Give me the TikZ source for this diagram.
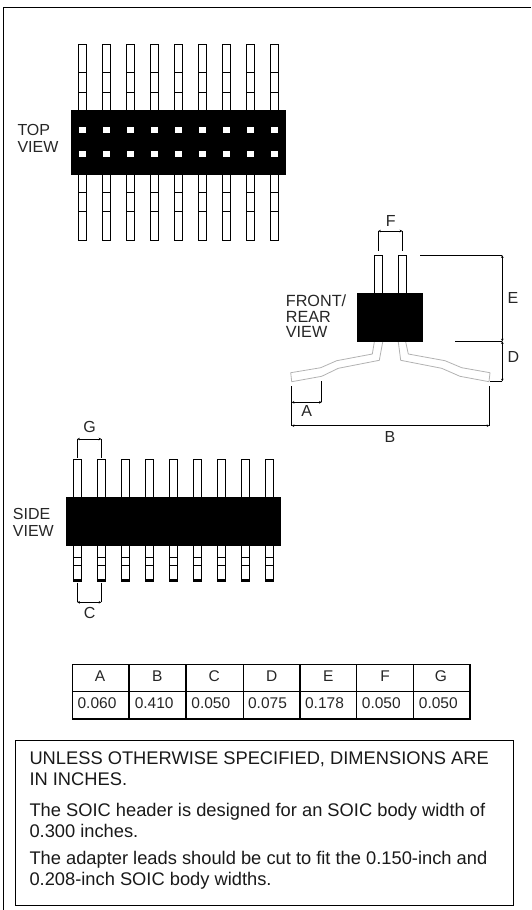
\documentclass[tikz,border=0pt]{standalone}
\usepackage{fontspec}
\setmainfont{Liberation Sans}
\usetikzlibrary{arrows.meta}
\tikzset{
  x=1pt,y=-1pt,
  pinbox/.style={draw=black,line width=0.9pt,fill=white},
  pinline/.style={draw=black,line width=0.9pt},
  bodybox/.style={fill=black},
  holebox/.style={fill=white},
  leadline/.style={draw=black!30,line width=0.8pt,line join=round},
  dimline/.style={draw=black,line width=0.8pt},
  dimarrow/.style={draw=black,line width=0.8pt,{Stealth[length=2.6pt,width=2.6pt]}-{Stealth[length=2.6pt,width=2.6pt]}},
  lbl/.style={font=\fontsize{16}{16.8}\selectfont,text=black!85,inner sep=0pt},
  viewlbl/.style={lbl,align=left,anchor=north west},
  cell/.style={font=\fontsize{15.5}{16}\selectfont,text=black!85,inner sep=0pt},
  notetext/.style={font=\fontsize{18.3}{21.2}\selectfont,text=black!90,inner sep=0pt,anchor=north west,align=left},
  framebox/.style={draw=black,line width=1pt},
  tablegrid/.style={draw=black,line width=1.2pt},
}
\begin{document}
\begin{tikzpicture}
\useasboundingbox (0,0) rectangle (531,910);
% frame
\draw[framebox] (3.3,910) -- (3.3,7.3) -- (531,7.3);
% TOP VIEW
\foreach \i in {0,...,8}{
  \pgfmathsetmacro{\xa}{78.4+24*\i}
  \pgfmathsetmacro{\xb}{86.6+24*\i}
  \draw[pinbox] (\xa,44.3) rectangle (\xb,240.3);
  \foreach \yy in {72.3,92.3,192.3,211.3}{ \draw[pinline] (\xa,\yy) -- (\xb,\yy); }
}
\fill[bodybox] (71,110) rectangle (286,174.7);
\foreach \i in {0,...,8}{
  \pgfmathsetmacro{\xa}{79.2+24*\i}
  \pgfmathsetmacro{\xb}{85.8+24*\i}
  \fill[holebox] (\xa,126.5) rectangle (\xb,132.5);
  \fill[holebox] (\xa,150.8) rectangle (\xb,156.8);
}
\node[viewlbl] (topview) at (17.3,124.5) {TOP\\VIEW};
% FRONT VIEW
\draw[leadline] (374.3,342) -- (372.3,354) -- (336.7,360.7) -- (320.7,367.7) -- (290.7,372.7) -- (291.7,381.7) -- (321.7,376.3) -- (338.3,368.3) -- (379.3,360.3) -- (382.7,342);
\draw[leadline] (398.3,342) -- (400.7,360.3) -- (441.7,368.3) -- (460,376.3) -- (489,381.7) -- (490,372.7) -- (461.7,367.7) -- (445,360.7) -- (408.3,354) -- (405.7,342);
\draw[pinbox] (374.4,255.3) rectangle (382.6,295);
\draw[pinbox] (398.4,255.3) rectangle (406.6,295);
\fill[bodybox] (357,293) rectangle (423,342);
\node[viewlbl,font=\fontsize{16.2}{15.7}\selectfont] (frontview) at (285.7,294.5) {FRONT/\\REAR\\VIEW};
\coordinate (fa) at (378.3,250.7); \coordinate (fb) at (402.3,250.7);
\coordinate (fc) at (378.3,231); \coordinate (fd) at (402.3,231);
\draw[dimline] (fa) -- (fc) (fb) -- (fd);
\draw[dimarrow] (fc) -- (fd);
\node[lbl] (F) at (390.7,220.7) {F};
\coordinate (ea) at (420,255.3); \coordinate (eb) at (502.3,255.3);
\coordinate (ec) at (455,341.3); \coordinate (ed) at (502.3,341.3);
\coordinate (da) at (490,381.3); \coordinate (db) at (502.3,381.3);
\draw[dimline] (ea) -- (eb) (ec) -- (ed) (da) -- (db);
\draw[dimarrow] (eb) -- (ed);
\draw[dimarrow] (ed) -- (db);
\node[lbl] (E) at (513,297.7) {E};
\node[lbl] (D) at (513.3,356.7) {D};
\coordinate (aa) at (291.7,386); \coordinate (ab) at (291.7,425.7);
\coordinate (ac) at (321.7,381); \coordinate (ad) at (321.7,402.3);
\coordinate (ae) at (291.7,402.3);
\coordinate (ba) at (489.3,386); \coordinate (bb) at (489.3,425.7);
\draw[dimline] (aa) -- (ab) (ac) -- (ad) (ba) -- (bb);
\draw[dimarrow] (ae) -- (ad);
\draw[dimarrow] (ab) -- (bb);
\node[lbl] (A) at (306.7,411.3) {A};
\node[lbl] (B) at (390,437.3) {B};
% SIDE VIEW
\foreach \i in {0,...,8}{
  \pgfmathsetmacro{\xa}{73.4+24*\i}
  \pgfmathsetmacro{\xb}{81.6+24*\i}
  \draw[pinbox] (\xa,459.3) rectangle (\xb,499);
  \draw[pinbox] (\xa,544) rectangle (\xb,581.5);
  \foreach \yy in {557.3,565.3}{ \draw[pinline] (\xa,\yy) -- (\xb,\yy); }
  \fill (\xa-0.4,577.7) rectangle (\xb+0.4,581.9);
  \fill[white] (\xa+0.4,578.4) rectangle (\xb-0.4,579.4);
}
\fill[bodybox] (66,497) rectangle (281,545.7);
\node[viewlbl] (sideview) at (12.7,508.2) {SIDE\\VIEW};
\coordinate (ga) at (77.3,457.7); \coordinate (gb) at (101.3,457.7);
\coordinate (gc) at (77.3,439); \coordinate (gd) at (101.3,439);
\draw[dimline] (ga) -- (gc) (gb) -- (gd);
\draw[dimarrow] (gc) -- (gd);
\node[lbl] (G) at (89.7,427.3) {G};
\coordinate (ca) at (77.3,582.7); \coordinate (cb) at (101.3,582.7);
\coordinate (cc) at (77.3,602.3); \coordinate (cd) at (101.3,602.3);
\draw[dimline] (ca) -- (cc) (cb) -- (cd);
\draw[dimarrow] (cc) -- (cd);
\node[lbl] (C) at (89.7,612.5) {C};
% TABLE
\draw[tablegrid] (72.3,664.3) rectangle (470,719);
\draw[tablegrid] (72.3,691.7) -- (470,691.7);
\foreach \xx in {129,186,243.3,300,356.7,413.3}{ \draw[tablegrid] (\xx,664.3) -- (\xx,719); }
\foreach \xh/\xv/\h/\v/\n in {100/97/A/0.060/a,157.3/154.2/B/0.410/b,214.3/210.8/C/0.050/c,271.7/267.5/D/0.075/d,328.3/324.5/E/0.178/e,385/381.3/F/0.050/f,441/438.3/G/0.050/g}{
  \node[cell] (h\n) at (\xh,676) {\h};
  \node[cell] (v\n) at (\xv,703.3) {\v};
}
% NOTES
\draw[framebox] (15,740.3) rectangle (513.3,905.7);
\node[notetext] (n1) at (29.3,751.8) {UNLESS OTHERWISE SPECIFIED, DIMENSIONS ARE\\IN INCHES.};
\node[notetext] (n2) at (29.3,802.6) {The SOIC header is designed for an SOIC body width of\\0.300 inches.};
\node[notetext] (n3) at (29.3,851.2) {The adapter leads should be cut to fit the 0.150-inch and\\0.208-inch SOIC body widths.};
\end{tikzpicture}
\end{document}
